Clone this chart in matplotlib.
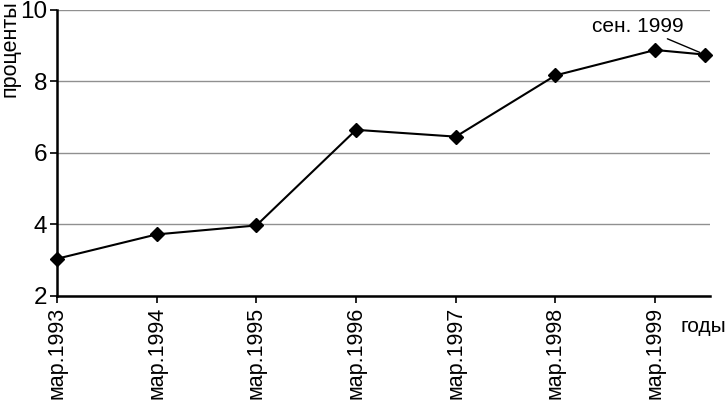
import matplotlib
matplotlib.use("Agg")
import matplotlib.pyplot as plt

# значения
labels = ['мар.1993', 'мар.1994', 'мар.1995', 'мар.1996',
          'мар.1997', 'мар.1998', 'мар.1999']
x_pos = [0, 1, 2, 3, 4, 5, 6, 6.5]   # последняя точка - сентябрь 1999
values = [3.04, 3.72, 3.97, 6.64, 6.45, 8.16, 8.87, 8.74]

plt.rcParams['font.family'] = ['Liberation Sans', 'DejaVu Sans']

fig = plt.figure(figsize=(7.26, 4.03), dpi=100)
ax = fig.add_axes([57 / 726, 1 - 296 / 403, (710 - 57) / 726, (296 - 9.5) / 403])

ax.plot(x_pos, values, color='black', lw=1.5, marker='D', ms=7, zorder=3,
        clip_on=False)

ax.set_xlim(0, 6.55)
ax.set_ylim(2, 10)
ax.set_yticks([2, 4, 6, 8, 10])
ax.set_xticks(range(len(labels)))
ax.set_xticklabels(labels, rotation=90, fontsize=15.5)
ax.tick_params(axis='y', labelsize=17.5, length=5, width=1.2, direction='out', pad=2)
ax.tick_params(axis='x', length=5, width=1.2, direction='out', pad=3)

ax.grid(axis='y', color='#909090', lw=1)
ax.set_axisbelow(True)
for s in ['top', 'right']:
    ax.spines[s].set_visible(False)
for s in ['left', 'bottom']:
    ax.spines[s].set_linewidth(1.8)

ax.annotate('сен. 1999', xy=(x_pos[-1], values[-1]), xytext=(684, 367),
            textcoords='figure pixels', ha='right', va='bottom', fontsize=15,
            arrowprops=dict(arrowstyle='-', color='black', lw=1,
                            shrinkA=0, shrinkB=4))

fig.text(0.0, 1.0, 'проценты', rotation=90, ha='left', va='top', fontsize=15.5)
fig.text(680 / 726, 1 - 327 / 403, 'годы', ha='left', va='center', fontsize=15)

fig.savefig('out.png', dpi=100)
